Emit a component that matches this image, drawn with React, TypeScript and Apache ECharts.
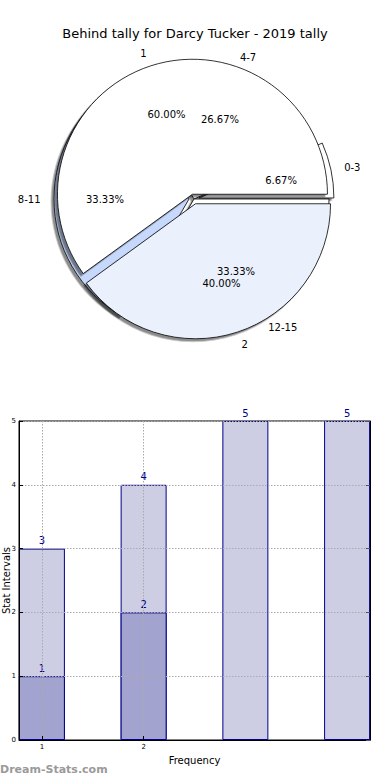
import React, { useEffect, useRef } from 'react';
import * as echarts from 'echarts';

const TITLE = 'Behind tally for Darcy Tucker - 2019 tally';

// Pie: two overlaid rings of the same size
const outerNames = ['1', '2'];
const outerValues = [9, 6];
const outerColors = ['#ffffff', '#eaf0fc'];
const outerExploded = [true, true];

const innerNames = ['0-3', '4-7', '8-11', '12-15'];
const innerValues = [1, 4, 5, 5];
const innerColors = ['#ffffff', '#ffffff', '#c6d8fb', '#ffffff'];
const innerExploded = [true, false, true, false];

// Bars
const barX = [1, 2, 3, 4];
const barTotals = [3, 4, 5, 5];
const barLowerX = [1, 2];
const barLower = [1, 2];
const xTickValues = [1, 2];
const yMin = 0;
const yMax = 5;

const FONT = 'DejaVu Sans';
const CX = 194;
const CY = 199;
const R = 135;

function shapeSeries(names: string[], values: number[], colors: string[], exploded: boolean[], z: number) {
  return {
    type: 'pie',
    z,
    center: [CX, CY],
    radius: [0, R],
    startAngle: 0,
    clockwise: false,
    selectedMode: 'multiple',
    selectedOffset: 5,
    avoidLabelOverlap: false,
    labelLayout: { hideOverlap: false },
    emphasis: { disabled: true },
    silent: true,
    data: names.map((n, i) => ({
      name: n,
      value: values[i],
      selected: exploded[i],
      itemStyle: { color: colors[i] },
    })),
    itemStyle: {
      borderColor: '#000',
      borderWidth: 0.8,
      shadowBlur: 0,
      shadowColor: 'rgba(0,0,0,0.45)',
      shadowOffsetX: -2.5,
      shadowOffsetY: 2.5,
    },
    label: {
      show: true,
      position: 'outside',
      formatter: '{b}',
      fontSize: 10,
      fontFamily: FONT,
      color: '#000',
      distanceToLabelLine: 0,
    },
    labelLine: { show: false, length: R * 0.1, length2: 0 },
  };
}

function pctSeries(names: string[], values: number[], exploded: boolean[], z: number) {
  return {
    type: 'pie',
    z,
    center: [CX, CY],
    radius: [R * 0.2, R],
    startAngle: 0,
    clockwise: false,
    selectedMode: 'multiple',
    selectedOffset: 5,
    avoidLabelOverlap: false,
    labelLayout: { hideOverlap: false },
    emphasis: { disabled: true },
    silent: true,
    data: names.map((n, i) => ({ name: n, value: values[i], selected: exploded[i] })),
    itemStyle: { color: 'rgba(0,0,0,0)', borderWidth: 0 },
    label: {
      show: true,
      position: 'inside',
      formatter: (p: any) => Number(p.percent).toFixed(2) + '%',
      fontSize: 10,
      fontFamily: FONT,
      color: '#000',
      overflow: 'none',
    },
    labelLine: { show: false },
  };
}

export default function App() {
  const ref = useRef<HTMLDivElement>(null);
  useEffect(() => {
    if (!ref.current) return;
    const chart = echarts.init(ref.current, null, { renderer: 'svg' });
    chart.setOption({
      animation: false,
      textStyle: { fontFamily: FONT },
      title: {
        text: TITLE,
        left: 'center',
        top: 22,
        textStyle: { fontSize: 13, fontWeight: 'normal', color: '#000', fontFamily: FONT },
      },
      grid: {
        left: 19,
        right: 20,
        top: 421,
        bottom: 40,
        outerBoundsMode: 'none',
        containLabel: false,
        show: true,
        borderColor: '#000',
        borderWidth: 1,
        backgroundColor: 'rgba(0,0,0,0)',
      },
      xAxis: {
        type: 'value',
        min: 0.775,
        max: 4.225,
        z: 5,
        name: 'Frequency',
        nameLocation: 'middle',
        nameGap: 15,
        nameMoveOverlap: false,
        nameTextStyle: { fontSize: 10, color: '#000', fontFamily: FONT },
        axisLine: { show: true, lineStyle: { color: '#000', width: 1 } },
        axisTick: { show: true, inside: true, length: 4, customValues: xTickValues, lineStyle: { color: '#000' } },
        axisLabel: { show: true, customValues: xTickValues, fontSize: 7, color: '#000', margin: 3 },
        splitLine: { show: true, lineStyle: { color: '#aaaaaa', type: [1.5, 1.5], width: 1 } },
      },
      yAxis: [
        {
          type: 'value',
          min: yMin,
          max: yMax,
          interval: 1,
          z: 5,
          name: 'Stat Intervals',
          nameLocation: 'middle',
          nameGap: 8,
          nameMoveOverlap: false,
          nameTextStyle: { fontSize: 10, color: '#000', fontFamily: FONT },
          axisLine: { show: true, lineStyle: { color: '#000', width: 1 } },
          axisTick: { show: true, inside: true, length: 4, lineStyle: { color: '#000' } },
          axisLabel: { show: true, fontSize: 7, color: '#000', margin: 3 },
          splitLine: { show: true, lineStyle: { color: '#aaaaaa', type: [1.5, 1.5], width: 1 } },
        },
        {
          type: 'value',
          position: 'right',
          min: yMin,
          max: yMax,
          interval: 1,
          z: 5,
          axisLine: { show: true, lineStyle: { color: '#000', width: 1 } },
          axisTick: { show: true, inside: true, length: 4, lineStyle: { color: '#555' } },
          axisLabel: { show: false },
          splitLine: { show: false },
        },
      ],
      graphic: [
        {
          type: 'text',
          left: 0,
          top: 764,
          style: { text: 'Dream-Stats.com', fontSize: 11, fontWeight: 'bold', fill: '#9a9a9a', fontFamily: FONT },
        },
      ],
      series: [
        shapeSeries(innerNames, innerValues, innerColors, innerExploded, 1),
        shapeSeries(outerNames, outerValues, outerColors, outerExploded, 2),
        pctSeries(innerNames, innerValues, innerExploded, 3),
        pctSeries(outerNames, outerValues, outerExploded, 3),
        {
          type: 'bar',
          xAxisIndex: 0,
          yAxisIndex: 0,
          z: 2,
          barWidth: 46,
          barGap: '-100%',
          data: barX.map((x, i) => [x, barTotals[i]]),
          itemStyle: { color: '#cdcde4', borderColor: '#00008b', borderWidth: 1 },
          label: { show: true, position: 'top', distance: 3, fontSize: 10, color: '#00008b', fontFamily: FONT },
          emphasis: { disabled: true },
        },
        {
          type: 'bar',
          xAxisIndex: 0,
          yAxisIndex: 0,
          z: 3,
          barWidth: 46,
          barGap: '-100%',
          data: barLowerX.map((x, i) => [x, barLower[i]]),
          itemStyle: { color: '#a3a3cf', borderColor: '#00008b', borderWidth: 1 },
          label: { show: true, position: 'top', distance: 3, fontSize: 10, color: '#00008b', fontFamily: FONT },
          emphasis: { disabled: true },
        },
      ],
    });
    return () => chart.dispose();
  }, []);
  return (
    <div
      ref={ref}
      style={{ position: 'fixed', left: 0, top: 0, width: 390, height: 780, background: '#fff' }}
    />
  );
}
